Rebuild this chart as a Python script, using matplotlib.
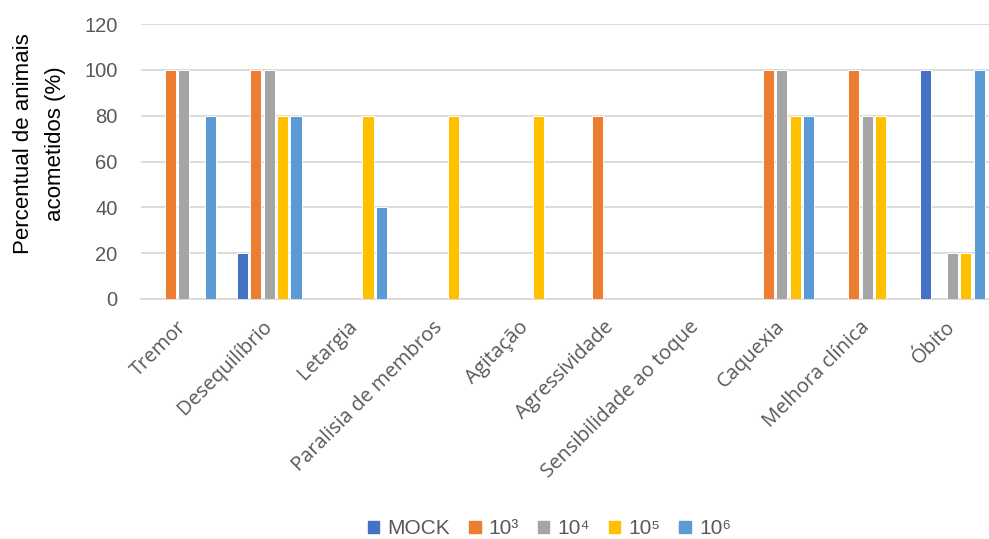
import numpy as np
import matplotlib.pyplot as plt
import matplotlib.patches as mpatches

categories = ["Tremor", "Desequilíbrio", "Letargia", "Paralisia de membros",
              "Agitação", "Agressividade", "Sensibilidade ao toque",
              "Caquexia", "Melhora clínica", "Óbito"]
series_names = ["MOCK", "10³", "10⁴", "10⁵", "10⁶"]
mock = [0, 20, 0, 0, 0, 0, 0, 0, 0, 100]
dose_1e3 = [100, 100, 0, 0, 0, 80, 0, 100, 100, 0]
dose_1e4 = [100, 100, 0, 0, 0, 0, 0, 100, 80, 20]
dose_1e5 = [0, 80, 80, 80, 80, 0, 0, 80, 80, 20]
dose_1e6 = [80, 80, 40, 0, 0, 0, 0, 80, 0, 100]
colors = ["#4472C4", "#ED7D31", "#A5A5A5", "#FFC000", "#5B9BD5"]

series = [mock, dose_1e3, dose_1e4, dose_1e5, dose_1e6]

W, H = 989, 539
fig = plt.figure(figsize=(W / 100, H / 100), dpi=100)
# plot area in pixels; the last category runs a little past the right edge
left, right, top, bottom = 141, 989, 24, 299
ax = fig.add_axes([left / W, 1 - bottom / H, (right - left) / W, (bottom - top) / H])

x = np.arange(len(categories))
slot = 0.157
width = 0.13
for k, (vals, c) in enumerate(zip(series, colors)):
    ax.bar(x + (k - 2) * slot, vals, width=width, color=c,
           edgecolor="white", linewidth=0.7, zorder=3)

ax.set_ylim(0, 120)
ax.set_yticks(range(0, 121, 20))
ax.set_xlim(-0.5, -0.5 + (right - left) / 85.42)
ax.grid(axis="y", color="#D9D9D9", linewidth=1.3, zorder=0)
for side in ["left", "right", "top"]:
    ax.spines[side].set_visible(False)
ax.spines["bottom"].set_color("#D9D9D9")
ax.spines["bottom"].set_linewidth(1.3)
ax.tick_params(axis="both", length=0)
ax.tick_params(axis="y", labelsize=14.5, labelcolor="#595959", pad=17)
for lbl in ax.get_yticklabels():
    lbl.set_family("Liberation Sans")

ax.set_xticks(x)
ax.set_xticklabels(categories, rotation=45, ha="right", va="center",
                   rotation_mode="anchor", fontsize=14.5, color="#595959",
                   family="Open Sans")
ax.tick_params(axis="x", pad=18)

fig.text(39.5 / W, 1 - 144 / H, "Percentual de animais\nacometidos (%)",
         rotation=90, ha="center", va="center", fontsize=16,
         family="Liberation Sans", linespacing=1.72)

handles = [mpatches.Patch(color=c, label=n) for n, c in zip(series_names, colors)]
fig.legend(handles=handles, loc="center", bbox_to_anchor=(549.5 / W, 1 - 529 / H),
           ncol=5, frameon=False, handlelength=0.55, handleheight=0.55,
           handletextpad=0.4, columnspacing=0.9,
           prop={"family": "Liberation Sans", "size": 15}, labelcolor="#595959")

fig.savefig("out.png", dpi=100)
